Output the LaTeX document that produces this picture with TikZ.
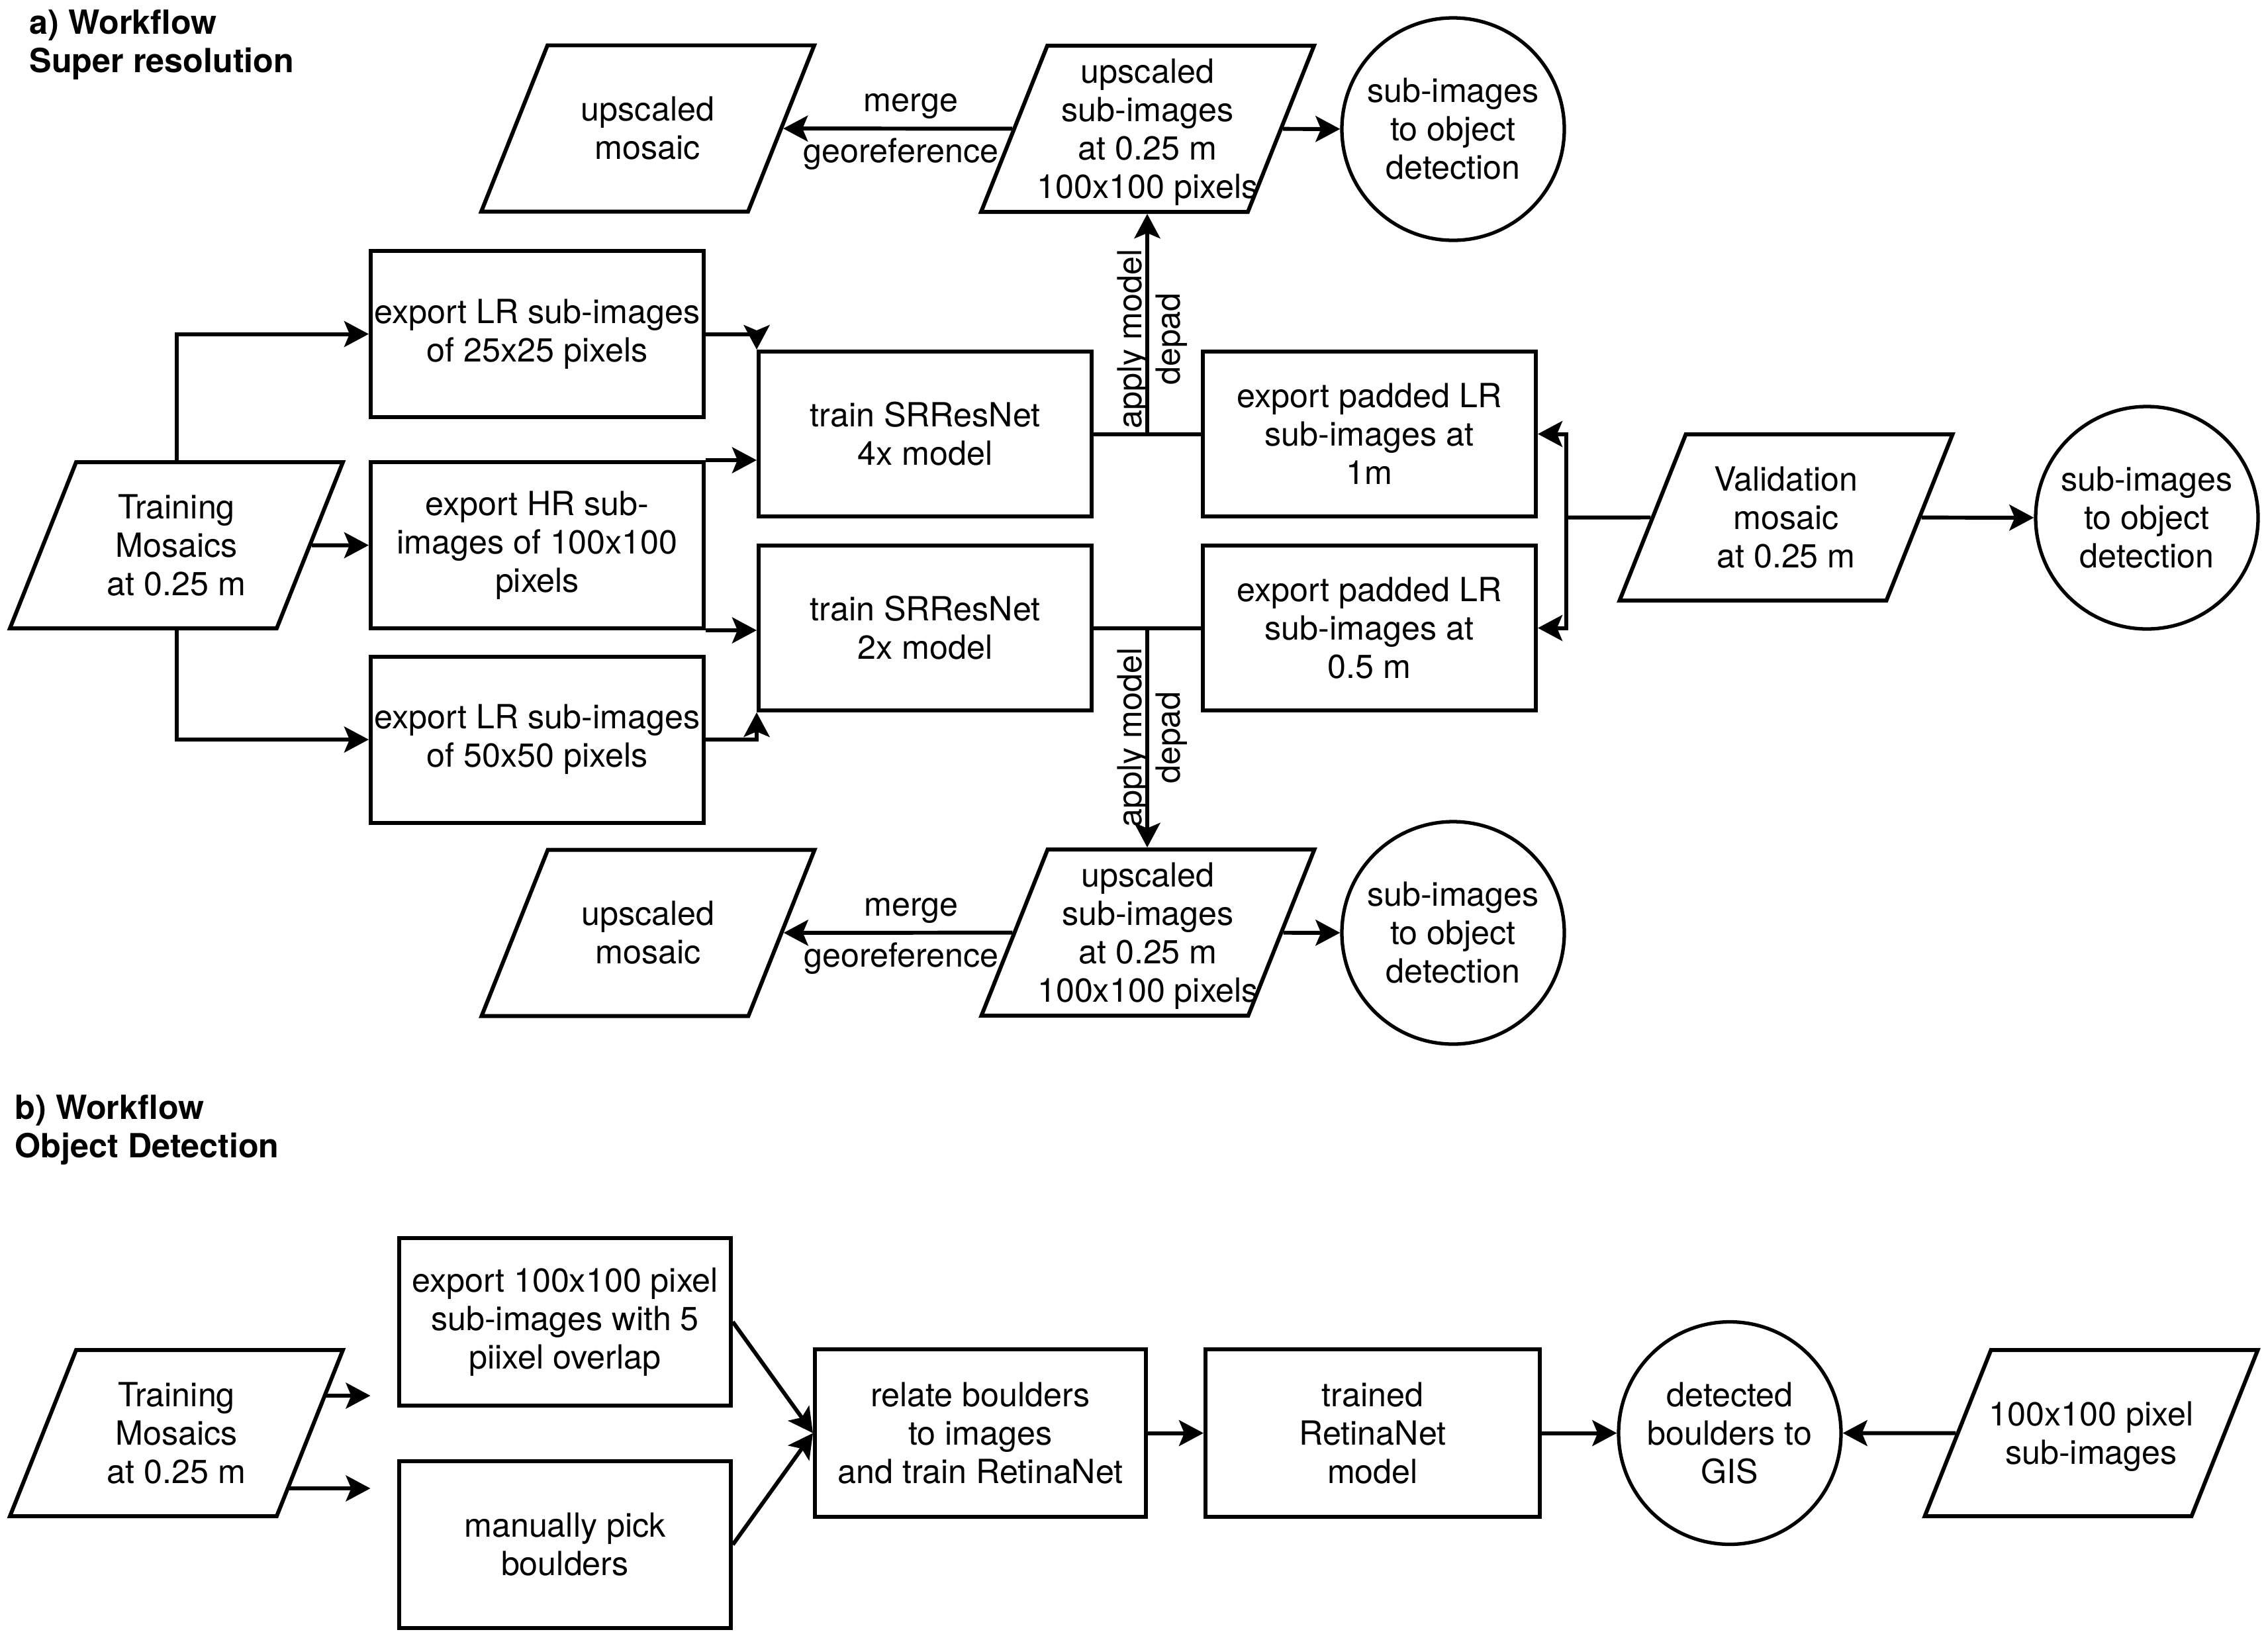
\documentclass[tikz,border=0pt]{standalone}
\usepackage{fontspec}
\setmainfont{TeX Gyre Heros}
\usetikzlibrary{shapes.geometric,arrows.meta,calc}

% fixed body for the parallelograms, so that the slant comes from the full height
\newcommand{\partext}[1]{\vbox to 2.51cm{\vfil\kern0.12cm\hbox to 3.03cm{\hss\begin{tabular}{@{}c@{}}#1\end{tabular}\hss}\vfil}}

\tikzset{
	box/.style={rectangle, draw, line width=1.7pt, minimum width=5.03cm, minimum height=2.51cm, align=center, inner sep=0pt},
	para/.style={trapezium, draw, line width=1.7pt, trapezium left angle=68.28, trapezium right angle=111.72, trapezium stretches body, inner sep=0pt},
	blob/.style={circle, draw, line width=1.5pt, minimum size=3.36cm, align=center, inner sep=0pt},
	arr/.style={line width=1.7pt, -{Stealth[length=3.7mm, width=3.9mm, inset=0.8mm]}},
	link/.style={line width=1.7pt},
	heading/.style={anchor=west, align=left, inner sep=0pt, font=\fontsize{14.3}{16.5}\selectfont\bfseries},
}

\begin{document}
\begin{tikzpicture}[font=\fontsize{14.3}{16.5}\selectfont]

	\useasboundingbox (0,0) rectangle (34.26,-24.70);

	% a) super resolution
	\node [heading] (headA) at (0.44,-0.675) {a) Workflow\\Super resolution};

	\node [para] (trainA) at (2.665,-8.235) {\partext{Training\\Mosaics\\at 0.25 m}};
	\node [box] (lr25) at (8.115,-5.045) {export LR sub-images\\of 25x25 pixels};
	\node [box] (hr100) at (8.115,-8.235) {export HR sub-\\images of 100x100\\pixels};
	\node [box] (lr50) at (8.115,-11.17) {export LR sub-images\\of 50x50 pixels};

	\node [box, minimum height=2.49cm] (srx4) at (13.975,-6.555) {train SRResNet\\4x model};
	\node [box, minimum height=2.49cm] (srx2) at (13.975,-9.485) {train SRResNet\\2x model};
	\node [box, minimum height=2.49cm] (pad1) at (20.685,-6.555) {export padded LR\\sub-images at\\1m};
	\node [box, minimum height=2.49cm] (pad2) at (20.685,-9.485) {export padded LR\\sub-images at\\0.5 m};

	\node [para] (valid) at (26.98,-7.815) {\partext{Validation\\mosaic\\at 0.25 m}};
	\node [blob] (detA) at (32.43,-7.82) {sub-images\\to object\\detection};

	\node [para] (upTop) at (17.335,-1.945) {\partext{upscaled\\sub-images\\at 0.25 m\\100x100 pixels}};
	\node [para] (mosTop) at (9.785,-1.94) {\partext{upscaled\\mosaic}};
	\node [blob] (detTop) at (21.95,-1.95) {sub-images\\to object\\detection};

	\node [para] (upBot) at (17.34,-14.085) {\partext{upscaled\\sub-images\\at 0.25 m\\100x100 pixels}};
	\node [para] (mosBot) at (9.79,-14.09) {\partext{upscaled\\mosaic}};
	\node [blob] (detBot) at (21.95,-14.09) {sub-images\\to object\\detection};

	\draw [arr] (trainA.north) |- (lr25.west);
	\draw [arr] (trainA) -- (hr100);
	\draw [arr] (trainA.south) |- (lr50.west);
	\draw [arr] (lr25.east) -| (srx4.north west);
	\draw [arr] (hr100.north east) -- (hr100.north east -| srx4.west);
	\draw [arr] (hr100.south east) -- (hr100.south east -| srx2.west);
	\draw [arr] (lr50.east) -| (srx2.south west);

	\draw [link] (srx4.east) -- (pad1.west);
	\draw [link] (srx2.east) -- (pad2.west);
	\coordinate (j4) at ($(srx4.east)!0.5!(pad1.west)$);
	\coordinate (j2) at ($(srx2.east)!0.5!(pad2.west)$);
	\draw [arr] (j4) -- (j4 |- upTop.south);
	\draw [arr] (j2) -- (j2 |- upBot.north);
	\node [rotate=90, align=center] (tagTop) at (17.41,-5.12) {apply model\\depad};
	\node [rotate=90, align=center] (tagBot) at (17.41,-11.14) {apply model\\depad};

	\draw [arr] (upTop) -- node [above, xshift=0.2cm] {merge} node [below, xshift=0.05cm] {georeference} (mosTop);
	\draw [arr] (upTop) -- (detTop);
	\draw [arr] (upBot) -- node [above, xshift=0.2cm] {merge} node [below, xshift=0.05cm] {georeference} (mosBot);
	\draw [arr] (upBot) -- (detBot);

	\coordinate (vj) at ($(pad1.east)+(0.43,-1.26)$);
	\draw [link] (valid) -- (vj);
	\draw [arr] (vj) |- (pad1.east);
	\draw [arr] (vj) |- (pad2.east);
	\draw [arr] (valid) -- (detA);

	% b) object detection
	\node [heading] (headB) at (0.22,-17.07) {b) Workflow\\Object Detection};

	\node [para] (trainB) at (2.665,-21.645) {\partext{Training\\Mosaics\\at 0.25 m}};
	\node [box, minimum width=5.01cm, minimum height=2.53cm] (exp100) at (8.535,-19.965) {export 100x100 pixel\\sub-images with 5\\piixel overlap};
	\node [box, minimum width=5.01cm, minimum height=2.52cm] (pick) at (8.535,-23.33) {manually pick\\boulders};
	\node [box, minimum width=5.0cm, minimum height=2.53cm] (relate) at (14.81,-21.645) {relate boulders\\to images\\and train RetinaNet};
	\node [box, minimum width=5.05cm, minimum height=2.53cm] (trained) at (20.735,-21.645) {trained\\RetinaNet\\model};
	\node [blob] (detB) at (26.13,-21.645) {detected\\boulders to\\GIS};
	\node [para] (pix) at (31.59,-21.645) {\partext{100x100 pixel\\sub-images}};

	\coordinate (tipB1) at ($(trainB.center)+(2.93,0.565)$);
	\coordinate (tipB2) at ($(trainB.center)+(2.93,-0.835)$);
	\draw [arr] ($(trainB.center)+(2.245,0.565)$) -- (tipB1);
	\draw [arr] ($(trainB.center)+(1.695,-0.835)$) -- (tipB2);
	\draw [arr] (exp100.east) -- (relate.west);
	\draw [arr] (pick.east) -- (relate.west);
	\draw [arr] (relate) -- (trained);
	\draw [arr] (trained) -- (detB);
	\draw [arr] (pix) -- (detB);

\end{tikzpicture}
\end{document}
